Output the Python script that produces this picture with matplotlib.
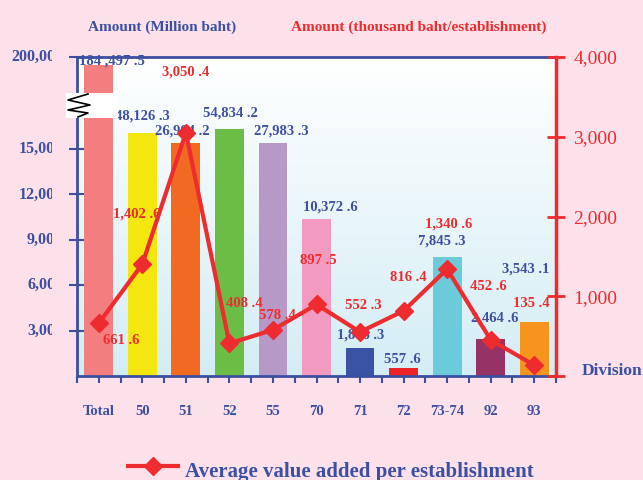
import numpy as np
import matplotlib
matplotlib.use("Agg")
import matplotlib.pyplot as plt
from matplotlib.transforms import Bbox, TransformedBbox
from matplotlib.lines import Line2D
from matplotlib.patches import Rectangle

# data
divisions = ["Total", "50", "51", "52", "55", "70", "71", "72", "73-74", "92", "93"]
amount_mb = [184497.5, 48126.3, 26904.2, 54834.2, 27983.3, 10372.6, 1866.3, 557.6, 7845.3, 2464.6, 3543.1]
avg_value = [661.6, 1402.6, 3050.4, 408.4, 578.4, 897.5, 552.3, 816.4, 1340.6, 452.6, 135.4]
left_ticks = [3000, 6000, 9000, 12000, 15000, 200000]
right_ticks = [0, 1000, 2000, 3000, 4000]
right_labels = ["", "1,000", "2,000", "3,000", "4,000"]

bar_colors = ["#F37E80", "#F4E60F", "#F26A22", "#6BBD46", "#B699C7", "#F29AC0",
              "#3A53A4", "#ED2328", "#6CCBDB", "#963266", "#F7941E"]
# label offsets (pixels, up is positive) from bar top / marker
bar_lbl_off = [(13, 4), (0, 17), (-4, 12), (1, 16), (8, 12), (14, 12),
               (1, 13), (-1, 8), (-5, 16), (4, 21), (-9, 53)]
line_lbl_off = [(22, -17), (-6, 50), (0, 61), (15, 40), (4, 14), (2, 44),
                (3, 26), (5, 33), (1, 45), (-2, 53), (-3, 62)]

blue = "#3C4FA0"
red = "#EE2B2E"
pink = "#FCE1EB"
serif = "Liberation Serif"

W, H = 643, 480
fig = plt.figure(figsize=(W / 100, H / 100), dpi=100, facecolor=pink)
pos = [77 / W, (H - 376) / H, (556 - 77) / W, (376 - 57) / H]

# gradient background of the plot area
ax_bg = fig.add_axes(pos, zorder=-1)
grad = np.linspace(0, 1, 256).reshape(-1, 1)
top = np.array([1.0, 1.0, 1.0])
bot = np.array([0.83, 0.93, 0.96])
img = top + (bot - top) * grad[..., None]
ax_bg.imshow(img.reshape(256, 1, 3), aspect="auto", extent=[0, 1, 0, 1])
ax_bg.axis("off")

ax = fig.add_axes(pos)
ax.patch.set_visible(False)

# broken left axis: linear up to 15,000, compressed above
brk_vals = [0, 15000, 200000]
brk_pos = [0, 227, 319]
ax.set_yscale("function", functions=(lambda v: np.interp(v, brk_vals, brk_pos),
                                     lambda p: np.interp(p, brk_pos, brk_vals)))
ax.set_ylim(0, 200000)
ax.set_xlim(-0.5, len(divisions) - 0.5)

x = np.arange(len(divisions))
ax.bar(x, amount_mb, width=0.66, color=bar_colors, zorder=2)

for i, v in enumerate(amount_mb):
    s = f"{v:,.1f}".replace(".", " .")
    if i == 0:
        s = s.replace(",", " ,")
    dx, dy = bar_lbl_off[i]
    ax.annotate(s, (i, v), xytext=(dx, dy), textcoords="offset pixels",
                ha="center", va="center", color=blue, fontsize=10.5,
                fontweight="bold", family=serif, zorder=3)

ax.spines["right"].set_visible(False)
for side in ["left", "bottom", "top"]:
    ax.spines[side].set_color(blue)
    ax.spines[side].set_linewidth(2)

ax.set_yticks(left_ticks)
ax.set_yticklabels([])
ax.tick_params(axis="y", direction="inout", length=12, width=1.5, color=blue)
ax.yaxis.set_minor_locator(matplotlib.ticker.NullLocator())

clip = TransformedBbox(Bbox([[0, 0], [52 / W, 1]]), fig.transFigure)
for t in left_ticks:
    txt = ax.text(-14 / 479, t, f"{t:,}", transform=ax.get_yaxis_transform(),
                  ha="right", va="center", color=blue, fontsize=11.5,
                  fontweight="bold", family=serif, clip_on=True)
    txt.set_clip_box(clip)

ax.set_xticks(x)
ax.set_xticks(np.arange(-0.5, len(divisions), 1), minor=True)
ax.set_xticklabels(divisions, color=blue, fontsize=10.5, fontweight="bold", family=serif)
ax.tick_params(axis="x", which="both", direction="out", length=5, width=1.5,
               color=blue, pad=16)

# right axis with the line
ax2 = ax.twinx()
ax2.set_ylim(0, 4000)
ax2.plot(x, avg_value, color=red, lw=3, marker="D", ms=9, zorder=4)
for i, v in enumerate(avg_value):
    dx, dy = line_lbl_off[i]
    ax2.annotate(f"{v:,.1f}".replace(".", " ."), (i, v), xytext=(dx, dy),
                 textcoords="offset pixels", ha="center", va="center",
                 color=red, fontsize=10.5, fontweight="bold", family=serif, zorder=5)
for side in ["left", "bottom", "top"]:
    ax2.spines[side].set_visible(False)
ax2.spines["right"].set_color(red)
ax2.spines["right"].set_linewidth(2.5)
ax2.set_yticks(right_ticks)
ax2.set_yticklabels(right_labels, color=red, fontsize=14, family=serif)
ax2.tick_params(axis="y", direction="inout", length=13, width=2, color=red, pad=6)

# axis titles
fig.text(162 / W, 1 - 27 / H, "Amount (Million baht)", ha="center", va="center",
         color=blue, fontsize=11, fontweight="bold", family=serif)
fig.text(419 / W, 1 - 27 / H, "Amount (thousand baht/establishment)", ha="center",
         va="center", color=red, fontsize=11, fontweight="bold", family=serif)
fig.text(582 / W, 1 - 371 / H, "Division", ha="left", va="center", color=blue,
         fontsize=12.5, fontweight="bold", family=serif)

# axis break symbol
fig.patches.append(Rectangle((66 / W, 1 - 118 / H), 52 / W, 25 / H, facecolor="white",
                             edgecolor="none", transform=fig.transFigure, zorder=10))
zx = [88, 68, 90, 68, 88, 78]
zy = [94, 100, 105, 110, 113, 117]
fig.lines.append(Line2D([v / W for v in zx], [1 - v / H for v in zy], color="black",
                        lw=1.2, transform=fig.transFigure, zorder=11))

# legend
fig.lines.append(Line2D([128 / W, 178 / W], [1 - 466 / H] * 2, color=red, lw=3,
                        transform=fig.transFigure))
fig.lines.append(Line2D([153 / W], [1 - 466 / H], color=red, marker="D", ms=9,
                        transform=fig.transFigure))
fig.text(185 / W, 1 - 477 / H, "Average value added per establishment", ha="left",
         va="baseline", color=blue, fontsize=15, fontweight="bold", family=serif)

fig.savefig("out.png", dpi=100, facecolor=pink)
